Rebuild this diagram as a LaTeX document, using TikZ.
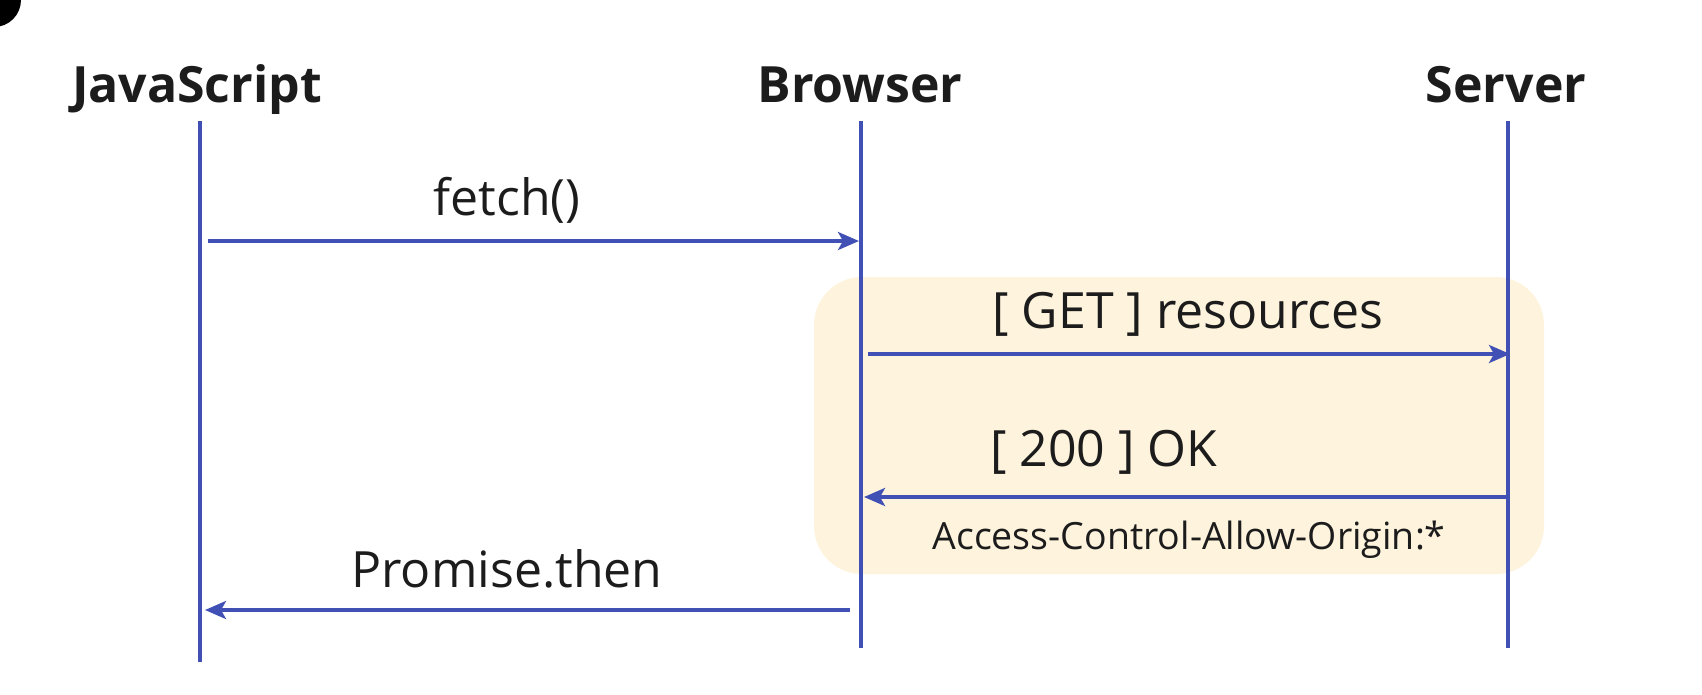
\documentclass[tikz,border=0pt]{standalone}
\usepackage{fontspec}
\setmainfont{Open Sans}
\usetikzlibrary{arrows.meta}
\definecolor{lineblue}{HTML}{4150B5}
\definecolor{boxyellow}{HTML}{FEF3DD}
\definecolor{txt}{HTML}{1C1C1C}
\begin{document}
\begin{tikzpicture}[x=1pt,y=-1pt,
  lifeline/.style={lineblue, line width=3.5pt},
  msg/.style={lineblue, line width=3.5pt, -{Stealth[length=21pt,width=18pt,inset=5pt]}},
  head/.style={anchor=base, font=\fontsize{50}{60}\selectfont\bfseries, text=txt, inner sep=0pt},
  lbl/.style={anchor=base, font=\fontsize{50}{60}\selectfont, text=txt, inner sep=0pt},
  smalllbl/.style={anchor=base, font=\fontsize{37.5}{45}\selectfont, text=txt, inner sep=0pt}]
\useasboundingbox (0,0) rectangle (1702,694);
\fill[black] (-6,0) circle (27);
\fill[boxyellow, rounded corners=48pt] (814,277) rectangle (1544,574);

\node[head] (js) at (197,102) {JavaScript};
\node[head] (br) at (860,102) {Browser};
\node[head] (sv) at (1506,102) {Server};

\coordinate (jsT) at (200,121);
\coordinate (jsB) at (200,662);
\coordinate (brT) at (861,121);
\coordinate (brB) at (861,648);
\coordinate (svT) at (1508,121);
\coordinate (svB) at (1508,648);
\draw[lifeline] (jsT) -- (jsB);
\draw[lifeline] (brT) -- (brB);
\draw[lifeline] (svT) -- (svB);

\coordinate (f1) at (208,241);
\coordinate (f2) at (859,241);
\draw[msg] (f1) -- (f2);
\node[lbl] (fetch) at (507,215) {fetch()};

\coordinate (g1) at (868,354);
\coordinate (g2) at (1510,354);
\draw[msg] (g1) -- (g2);
\node[lbl] (get) at (1188,328) {[ GET ] resources};

\coordinate (o1) at (1508,497);
\coordinate (o2) at (864,497);
\draw[msg] (o1) -- (o2);
\node[lbl, anchor=base west] (ok) at (990,466) {[ 200 ] OK};
\node[smalllbl] (acao) at (1189,549) {Access-Control-Allow-Origin:*};

\coordinate (p1) at (850,610);
\coordinate (p2) at (205,610);
\draw[msg] (p1) -- (p2);
\node[lbl] (prom) at (507,587) {Promise.then};
\end{tikzpicture}
\end{document}
